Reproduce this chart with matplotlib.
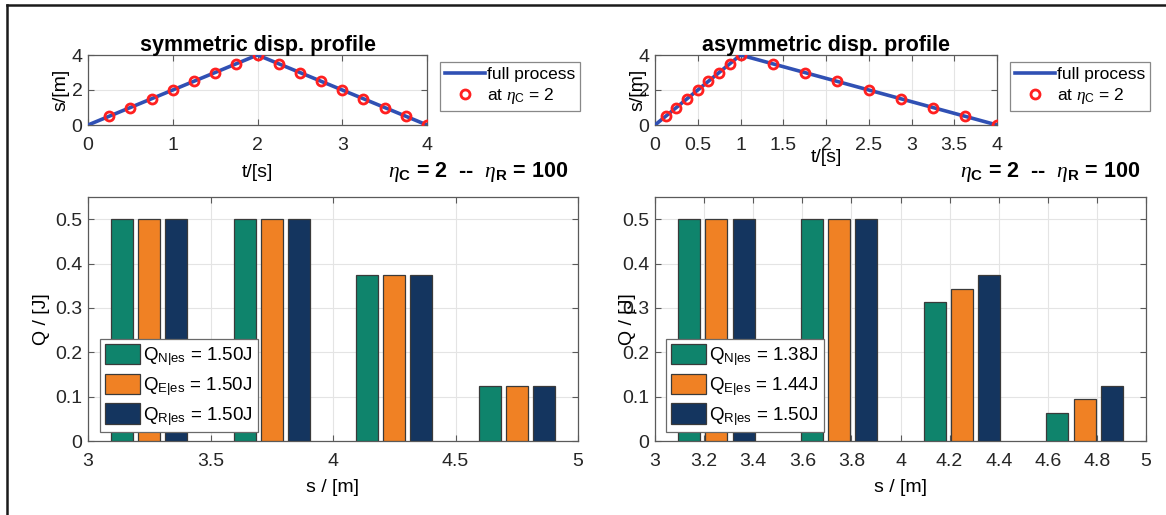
import matplotlib
matplotlib.use("Agg")
import matplotlib.pyplot as plt
from matplotlib.lines import Line2D

plt.rcParams['font.family'] = ['Liberation Sans', 'DejaVu Sans']
plt.rcParams['mathtext.fontset'] = 'custom'
plt.rcParams['mathtext.rm'] = 'Liberation Sans'
plt.rcParams['mathtext.it'] = 'Liberation Serif:italic'
plt.rcParams['mathtext.bf'] = 'Liberation Sans:bold'

# ---- displacement profiles ----
sym_t_full = [0, 2, 4]
sym_s_full = [0, 4, 0]
sym_t_pts = [0.25, 0.5, 0.75, 1.0, 1.25, 1.5, 1.75, 2.0,
             2.25, 2.5, 2.75, 3.0, 3.25, 3.5, 3.75, 4.0]
sym_s_pts = [0.5, 1.0, 1.5, 2.0, 2.5, 3.0, 3.5, 4.0,
             3.5, 3.0, 2.5, 2.0, 1.5, 1.0, 0.5, 0.0]

asym_t_full = [0, 1, 4]
asym_s_full = [0, 4, 0]
asym_t_pts = [0.125, 0.25, 0.375, 0.5, 0.625, 0.75, 0.875, 1.0,
              1.375, 1.75, 2.125, 2.5, 2.875, 3.25, 3.625, 4.0]
asym_s_pts = [0.5, 1.0, 1.5, 2.0, 2.5, 3.0, 3.5, 4.0,
              3.5, 3.0, 2.5, 2.0, 1.5, 1.0, 0.5, 0.0]

# ---- dissipated energy per segment ----
seg_centers = [3.25, 3.75, 4.25, 4.75]
sym_QN = [0.5, 0.5, 0.375, 0.125]
sym_QE = [0.5, 0.5, 0.375, 0.125]
sym_QR = [0.5, 0.5, 0.375, 0.125]
asym_QN = [0.5, 0.5, 0.3125, 0.0625]
asym_QE = [0.5, 0.5, 0.34375, 0.09375]
asym_QR = [0.5, 0.5, 0.375, 0.125]
sym_labels = [r'Q$_{\mathrm{N|es}}$ = 1.50J', r'Q$_{\mathrm{E|es}}$ = 1.50J', r'Q$_{\mathrm{R|es}}$ = 1.50J']
asym_labels = [r'Q$_{\mathrm{N|es}}$ = 1.38J', r'Q$_{\mathrm{E|es}}$ = 1.44J', r'Q$_{\mathrm{R|es}}$ = 1.50J']

sym_tick_t = [0, 1, 2, 3, 4]
asym_tick_t = [0, 0.5, 1, 1.5, 2, 2.5, 3, 3.5, 4]
sym_tick_s = [3, 3.5, 4, 4.5, 5]
asym_tick_s = [3, 3.2, 3.4, 3.6, 3.8, 4, 4.2, 4.4, 4.6, 4.8, 5]

line_blue = '#3050b4'
bar_colors = ['#0f846c', '#f08124', '#14355f']
spine_col = '#5a5a5a'
grid_col = '#e4e4e4'

W, H = 1166, 515
fig = plt.figure(figsize=(W / 100, H / 100), dpi=100)


def fbox(x0, y0, x1, y1):
    return [x0 / W, 1 - y1 / H, (x1 - x0) / W, (y1 - y0) / H]


def fmt(v):
    return ('%g' % v)


def style(ax, fs):
    ax.grid(True, color=grid_col, linewidth=0.8)
    ax.set_axisbelow(True)
    for sp in ax.spines.values():
        sp.set_color(spine_col)
        sp.set_linewidth(0.9)
    ax.tick_params(direction='in', top=True, right=True, length=4,
                   color=spine_col, labelsize=fs, labelcolor='#262626')
    ax.tick_params(axis='x', pad=9)
    ax.tick_params(axis='y', pad=4)


def profile(ax, tf, sf, tp, sp, title, xticks, xlabelpad):
    ax.plot(tf, sf, color=line_blue, linewidth=2.6, label='full process', zorder=3)
    ax.plot(tp, sp, linestyle='none', marker='o', markersize=6.5,
            markerfacecolor='none', markeredgecolor='#ff2020', markeredgewidth=2.0,
            label=r'at $\eta_\mathrm{C}$ = 2', zorder=4)
    ax.set_xlim(0, 4)
    ax.set_ylim(0, 4)
    ax.set_xticks(xticks)
    ax.set_xticklabels([fmt(v) for v in xticks])
    ax.set_yticks([0, 2, 4])
    style(ax, 14)
    ax.set_title(title, fontsize=15.5, fontweight='bold', pad=3)
    ax.set_xlabel('t/[s]', fontsize=14, labelpad=xlabelpad)
    ax.set_ylabel('s/[m]', fontsize=14)


def bars(ax, qn, qe, qr, labels, xticks):
    offs = [-0.111, 0.0, 0.111]
    for series, off, col, lab in zip([qn, qe, qr], offs, bar_colors, labels):
        ax.bar([c + off for c in seg_centers], series, width=0.09, color=col,
               edgecolor='#3a3a3a', linewidth=0.9, label=lab, zorder=3)
    ax.set_xlim(3, 5)
    ax.set_ylim(0, 0.55)
    ax.set_xticks(xticks)
    ax.set_xticklabels([fmt(v) for v in xticks])
    yt = [0, 0.1, 0.2, 0.3, 0.4, 0.5]
    ax.set_yticks(yt)
    ax.set_yticklabels([fmt(v) for v in yt])
    style(ax, 14)
    ax.set_xlabel('s / [m]', fontsize=14, labelpad=6)
    ax.set_ylabel('Q / [J]', fontsize=14)


ax1 = fig.add_axes(fbox(88, 55, 427, 125))
profile(ax1, sym_t_full, sym_s_full, sym_t_pts, sym_s_pts,
        'symmetric disp. profile', sym_tick_t, 7)
ax1.yaxis.set_label_coords(-0.056, 0.5)
ax2 = fig.add_axes(fbox(655, 55, 997, 125))
profile(ax2, asym_t_full, asym_s_full, asym_t_pts, asym_s_pts,
        'asymmetric disp. profile', asym_tick_t, -4)
ax2.yaxis.set_label_coords(-0.025, 0.5)

for ax, x0 in [(ax1, 440), (ax2, 1010)]:
    lg = ax.legend(loc='upper left', bbox_to_anchor=(x0 / W, 1 - 62 / H),
                   bbox_transform=fig.transFigure, fontsize=12.5, frameon=True,
                   fancybox=False, edgecolor='#6a6a6a', handlelength=2.3,
                   handletextpad=0.1, borderpad=0.3, labelspacing=0.2,
                   borderaxespad=0)
    lg.get_frame().set_linewidth(0.9)

ax3 = fig.add_axes(fbox(88, 197, 578, 441))
bars(ax3, sym_QN, sym_QE, sym_QR, sym_labels, sym_tick_s)
ax3.yaxis.set_label_coords(-0.078, 0.5)
ax4 = fig.add_axes(fbox(655, 197, 1146, 441))
bars(ax4, asym_QN, asym_QE, asym_QR, asym_labels, asym_tick_s)
ax4.yaxis.set_label_coords(-0.039, 0.5)

for ax, x0 in [(ax3, 100), (ax4, 666)]:
    lg = ax.legend(loc='upper left', bbox_to_anchor=(x0 / W, 1 - 339 / H),
                   bbox_transform=fig.transFigure, fontsize=13.5, frameon=True,
                   fancybox=False, edgecolor='#6a6a6a', handlelength=1.9,
                   handleheight=1.3, handletextpad=0.15, borderpad=0.25,
                   labelspacing=0.3, borderaxespad=0, framealpha=1)
    lg.get_frame().set_linewidth(0.9)

# parameter annotations
for xc in [478, 1050]:
    fig.text(xc / W, 1 - 172 / H,
             r'$\eta_\mathbf{C}$ = 2  --  $\eta_\mathbf{R}$ = 100',
             ha='center', va='center', fontsize=15.5, fontweight='bold')

# outer frame
fig.add_artist(Line2D([7 / W, 7 / W], [0, 1 - 5 / H], color='#1a1a1a', linewidth=1.8))
fig.add_artist(Line2D([7 / W, 1], [1 - 5 / H, 1 - 5 / H], color='#1a1a1a', linewidth=1.8))

fig.savefig('out.png', dpi=100)
